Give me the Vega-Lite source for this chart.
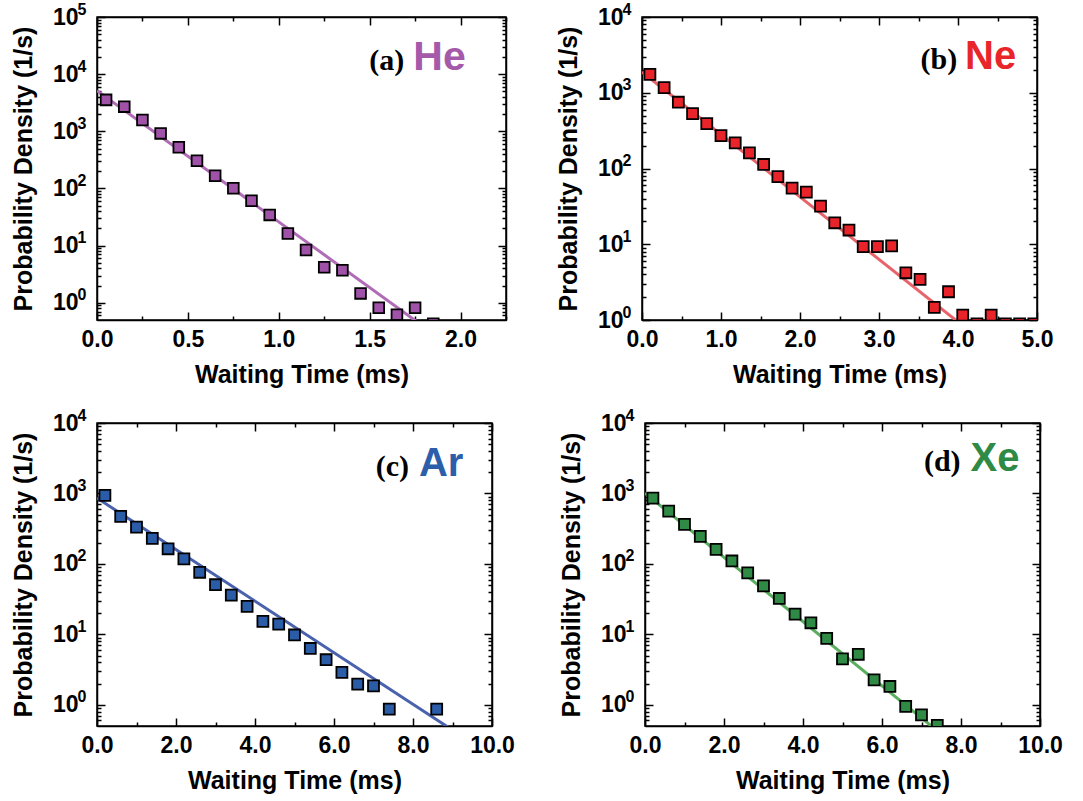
{
  "$schema": "https://vega.github.io/schema/vega-lite/v6.json",
  "background": "white",
  "padding": {"left": 10, "top": 0, "right": 5, "bottom": 5},
  "config": {
    "view": {"stroke": "black", "strokeWidth": 1.5},
    "axis": {"grid": false, "domainColor": "black", "domainWidth": 1.5, "tickColor": "black", "tickWidth": 1.5, "labelFont": "Liberation Sans", "labelFontWeight": "bold", "labelFontSize": 23, "labelColor": "black", "titleFont": "Liberation Sans", "titleFontWeight": "bold", "titleFontSize": 25, "titleColor": "black", "labelFlush": false, "labelOverlap": false, "labelBound": false}
  },
  "datasets": {
    "points": [
      {"panel": "a", "t": 0.05, "p": 3550}, {"panel": "a", "t": 0.15, "p": 2700}, {"panel": "a", "t": 0.25, "p": 1580}, {"panel": "a", "t": 0.35, "p": 920}, {"panel": "a", "t": 0.45, "p": 525}, {"panel": "a", "t": 0.55, "p": 306}, {"panel": "a", "t": 0.65, "p": 167}, {"panel": "a", "t": 0.75, "p": 101}, {"panel": "a", "t": 0.85, "p": 61}, {"panel": "a", "t": 0.95, "p": 34.5}, {"panel": "a", "t": 1.05, "p": 16.3}, {"panel": "a", "t": 1.15, "p": 8.4}, {"panel": "a", "t": 1.25, "p": 4.2}, {"panel": "a", "t": 1.35, "p": 3.7}, {"panel": "a", "t": 1.45, "p": 1.46}, {"panel": "a", "t": 1.55, "p": 0.82}, {"panel": "a", "t": 1.65, "p": 0.62}, {"panel": "a", "t": 1.75, "p": 0.82}, {"panel": "a", "t": 1.85, "p": 0.43},
      {"panel": "b", "t": 0.10, "p": 1750}, {"panel": "b", "t": 0.28, "p": 1170}, {"panel": "b", "t": 0.46, "p": 750}, {"panel": "b", "t": 0.64, "p": 531}, {"panel": "b", "t": 0.82, "p": 392}, {"panel": "b", "t": 1.00, "p": 272}, {"panel": "b", "t": 1.18, "p": 218}, {"panel": "b", "t": 1.36, "p": 161}, {"panel": "b", "t": 1.54, "p": 113}, {"panel": "b", "t": 1.72, "p": 78}, {"panel": "b", "t": 1.90, "p": 55}, {"panel": "b", "t": 2.08, "p": 48.7}, {"panel": "b", "t": 2.26, "p": 31.9}, {"panel": "b", "t": 2.44, "p": 19.2}, {"panel": "b", "t": 2.62, "p": 15.4}, {"panel": "b", "t": 2.80, "p": 9.3}, {"panel": "b", "t": 2.98, "p": 9.3}, {"panel": "b", "t": 3.16, "p": 9.5}, {"panel": "b", "t": 3.34, "p": 4.2}, {"panel": "b", "t": 3.52, "p": 3.44}, {"panel": "b", "t": 3.70, "p": 1.47}, {"panel": "b", "t": 3.88, "p": 2.36}, {"panel": "b", "t": 4.06, "p": 1.16}, {"panel": "b", "t": 4.24, "p": 0.89}, {"panel": "b", "t": 4.42, "p": 1.16}, {"panel": "b", "t": 4.60, "p": 0.89}, {"panel": "b", "t": 4.78, "p": 0.89}, {"panel": "b", "t": 4.96, "p": 0.89},
      {"panel": "c", "t": 0.2, "p": 940}, {"panel": "c", "t": 0.6, "p": 473}, {"panel": "c", "t": 1.0, "p": 333}, {"panel": "c", "t": 1.4, "p": 230}, {"panel": "c", "t": 1.8, "p": 164}, {"panel": "c", "t": 2.2, "p": 118}, {"panel": "c", "t": 2.6, "p": 76}, {"panel": "c", "t": 3.0, "p": 50.6}, {"panel": "c", "t": 3.4, "p": 36}, {"panel": "c", "t": 3.8, "p": 24.9}, {"panel": "c", "t": 4.2, "p": 15.3}, {"panel": "c", "t": 4.6, "p": 14}, {"panel": "c", "t": 5.0, "p": 9.8}, {"panel": "c", "t": 5.4, "p": 6.3}, {"panel": "c", "t": 5.8, "p": 4.36}, {"panel": "c", "t": 6.2, "p": 2.88}, {"panel": "c", "t": 6.6, "p": 1.97}, {"panel": "c", "t": 7.0, "p": 1.86}, {"panel": "c", "t": 7.4, "p": 0.87}, {"panel": "c", "t": 8.6, "p": 0.87},
      {"panel": "d", "t": 0.2, "p": 859}, {"panel": "d", "t": 0.6, "p": 562}, {"panel": "d", "t": 1.0, "p": 364}, {"panel": "d", "t": 1.4, "p": 246}, {"panel": "d", "t": 1.8, "p": 161}, {"panel": "d", "t": 2.2, "p": 110}, {"panel": "d", "t": 2.6, "p": 74.6}, {"panel": "d", "t": 3.0, "p": 48.8}, {"panel": "d", "t": 3.4, "p": 32.3}, {"panel": "d", "t": 3.8, "p": 19.4}, {"panel": "d", "t": 4.2, "p": 14.6}, {"panel": "d", "t": 4.6, "p": 8.78}, {"panel": "d", "t": 5.0, "p": 4.48}, {"panel": "d", "t": 5.4, "p": 5.21}, {"panel": "d", "t": 5.8, "p": 2.26}, {"panel": "d", "t": 6.2, "p": 1.82}, {"panel": "d", "t": 6.6, "p": 0.95}, {"panel": "d", "t": 7.0, "p": 0.72}, {"panel": "d", "t": 7.4, "p": 0.51}
    ],
    "fits": [
      {"panel": "a", "t": 0, "p": 5150}, {"panel": "a", "t": 1.8, "p": 0.378},
      {"panel": "b", "t": 0, "p": 1880}, {"panel": "b", "t": 4.2, "p": 0.646},
      {"panel": "c", "t": 0, "p": 861}, {"panel": "c", "t": 9.0, "p": 0.438},
      {"panel": "d", "t": 0, "p": 1010}, {"panel": "d", "t": 7.5, "p": 0.385}
    ],
    "labels": [
      {"panel": "a", "tag": "(a)", "gas": "He"},
      {"panel": "b", "tag": "(b)", "gas": "Ne"},
      {"panel": "c", "tag": "(c)", "gas": "Ar"},
      {"panel": "d", "tag": "(d)", "gas": "Xe"}
    ]
  },
  "spacing": 18,
  "vconcat": [
    {
      "bounds": "flush",
      "spacing": 136,
      "hconcat": [
        {
          "width": 409, "height": 303,
          "layer": [
            {
              "data": {"name": "fits"}, "transform": [{"filter": "datum.panel == 'a'"}],
              "mark": {"type": "line", "color": "#B06CB6", "strokeWidth": 3, "clip": true},
              "encoding": {
                "x": {"field": "t", "type": "quantitative", "scale": {"domain": [0, 2.25], "nice": false, "zero": false},
                  "axis": {"orient": "bottom", "title": "Waiting Time (ms)", "values": [0, 0.25, 0.5, 0.75, 1, 1.25, 1.5, 1.75, 2, 2.25], "labelExpr": "abs(datum.value/0.5 - round(datum.value/0.5)) < 0.001 ? format(datum.value, '.1f') : ''", "tickSize": {"condition": {"test": "abs(datum.value/0.5 - round(datum.value/0.5)) < 0.001", "value": -8}, "value": -4}, "labelPadding": 16, "titlePadding": 7}},
                "y": {"field": "p", "type": "quantitative", "scale": {"type": "log", "domain": [0.5, 100000], "nice": false},
                  "axis": {"orient": "left", "title": "Probability Density (1/s)", "values": [0.6,0.7,0.8,0.9,1,2,3,4,5,6,7,8,9,10,20,30,40,50,60,70,80,90,100,200,300,400,500,600,700,800,900,1000,2000,3000,4000,5000,6000,7000,8000,9000,10000,20000,30000,40000,50000,60000,70000,80000,90000,100000], "labelExpr": "abs(log(datum.value)/LN10 - round(log(datum.value)/LN10)) < 0.001 ? '10' : ''", "tickSize": {"condition": {"test": "abs(log(datum.value)/LN10 - round(log(datum.value)/LN10)) < 0.001", "value": -8}, "value": -4}, "labelPadding": 27, "titlePadding": 16}}
              }
            },
            {
              "data": {"name": "points"}, "transform": [{"filter": "datum.panel == 'a'"}],
              "mark": {"type": "point", "shape": "square", "filled": true, "fill": "#A052A8", "stroke": "black", "strokeWidth": 1.8, "size": 115, "opacity": 1, "clip": true},
              "encoding": {
                "x": {"field": "t", "type": "quantitative", "scale": {"domain": [0, 2.25], "nice": false, "zero": false},
                  "axis": {"orient": "top", "title": null, "labels": false, "values": [0, 0.25, 0.5, 0.75, 1, 1.25, 1.5, 1.75, 2, 2.25], "tickSize": {"condition": {"test": "abs(datum.value/0.5 - round(datum.value/0.5)) < 0.001", "value": -8}, "value": -4}}},
                "y": {"field": "p", "type": "quantitative", "scale": {"type": "log", "domain": [0.5, 100000], "nice": false},
                  "axis": {"orient": "right", "title": null, "labels": false, "values": [0.6,0.7,0.8,0.9,1,2,3,4,5,6,7,8,9,10,20,30,40,50,60,70,80,90,100,200,300,400,500,600,700,800,900,1000,2000,3000,4000,5000,6000,7000,8000,9000,10000,20000,30000,40000,50000,60000,70000,80000,90000,100000], "tickSize": {"condition": {"test": "abs(log(datum.value)/LN10 - round(log(datum.value)/LN10)) < 0.001", "value": -8}, "value": -4}}}
              }
            },
            {
              "data": {"name": "labels"}, "transform": [{"filter": "datum.panel == 'a'"}],
              "mark": {"type": "text", "font": "Liberation Serif", "fontWeight": "bold", "fontSize": 30, "color": "black", "align": "right", "baseline": "alphabetic"},
              "encoding": {"x": {"datum": 1.69, "type": "quantitative", "axis": null},
                "y": {"datum": 11700, "type": "quantitative", "axis": {"orient": "left", "title": null, "values": [1, 10, 100, 1000, 10000, 100000], "labelExpr": "'' + round(log(datum.value)/LN10)", "ticks": false, "tickSize": 0, "domain": false, "labelFontSize": 16, "labelPadding": 11, "labelOffset": -8}},
                "text": {"field": "tag"}}
            },
            {
              "data": {"name": "labels"}, "transform": [{"filter": "datum.panel == 'a'"}],
              "mark": {"type": "text", "font": "Liberation Sans", "fontWeight": "bold", "fontSize": 41, "color": "#A45AA8", "align": "left", "baseline": "alphabetic"},
              "encoding": {"x": {"datum": 1.74, "type": "quantitative", "axis": null}, "y": {"datum": 11700, "type": "quantitative", "axis": null}, "text": {"field": "gas"}}
            }
          ],
          "resolve": {"axis": {"x": "independent", "y": "independent"}}
        },
        {
          "width": 395, "height": 303,
          "layer": [
            {
              "data": {"name": "fits"}, "transform": [{"filter": "datum.panel == 'b'"}],
              "mark": {"type": "line", "color": "#E8646A", "strokeWidth": 3, "clip": true},
              "encoding": {
                "x": {"field": "t", "type": "quantitative", "scale": {"domain": [0, 5], "nice": false, "zero": false},
                  "axis": {"orient": "bottom", "title": "Waiting Time (ms)", "values": [0, 0.5, 1, 1.5, 2, 2.5, 3, 3.5, 4, 4.5, 5], "labelExpr": "abs(datum.value - round(datum.value)) < 0.001 ? format(datum.value, '.1f') : ''", "tickSize": {"condition": {"test": "abs(datum.value - round(datum.value)) < 0.001", "value": -8}, "value": -4}, "labelPadding": 16, "titlePadding": 7}},
                "y": {"field": "p", "type": "quantitative", "scale": {"type": "log", "domain": [1, 10000], "nice": false},
                  "axis": {"orient": "left", "title": "Probability Density (1/s)", "values": [1,2,3,4,5,6,7,8,9,10,20,30,40,50,60,70,80,90,100,200,300,400,500,600,700,800,900,1000,2000,3000,4000,5000,6000,7000,8000,9000,10000], "labelExpr": "abs(log(datum.value)/LN10 - round(log(datum.value)/LN10)) < 0.001 ? '10' : ''", "tickSize": {"condition": {"test": "abs(log(datum.value)/LN10 - round(log(datum.value)/LN10)) < 0.001", "value": -8}, "value": -4}, "labelPadding": 27, "titlePadding": 16}}
              }
            },
            {
              "data": {"name": "points"}, "transform": [{"filter": "datum.panel == 'b'"}],
              "mark": {"type": "point", "shape": "square", "filled": true, "fill": "#E8232A", "stroke": "black", "strokeWidth": 1.8, "size": 120, "opacity": 1, "clip": true},
              "encoding": {
                "x": {"field": "t", "type": "quantitative", "scale": {"domain": [0, 5], "nice": false, "zero": false},
                  "axis": {"orient": "top", "title": null, "labels": false, "values": [0, 0.5, 1, 1.5, 2, 2.5, 3, 3.5, 4, 4.5, 5], "tickSize": {"condition": {"test": "abs(datum.value - round(datum.value)) < 0.001", "value": -8}, "value": -4}}},
                "y": {"field": "p", "type": "quantitative", "scale": {"type": "log", "domain": [1, 10000], "nice": false},
                  "axis": {"orient": "right", "title": null, "labels": false, "values": [1,2,3,4,5,6,7,8,9,10,20,30,40,50,60,70,80,90,100,200,300,400,500,600,700,800,900,1000,2000,3000,4000,5000,6000,7000,8000,9000,10000], "tickSize": {"condition": {"test": "abs(log(datum.value)/LN10 - round(log(datum.value)/LN10)) < 0.001", "value": -8}, "value": -4}}}
              }
            },
            {
              "data": {"name": "labels"}, "transform": [{"filter": "datum.panel == 'b'"}],
              "mark": {"type": "text", "font": "Liberation Serif", "fontWeight": "bold", "fontSize": 30, "color": "black", "align": "right", "baseline": "alphabetic"},
              "encoding": {"x": {"datum": 3.99, "type": "quantitative", "axis": null},
                "y": {"datum": 2050, "type": "quantitative", "axis": {"orient": "left", "title": null, "values": [1, 10, 100, 1000, 10000], "labelExpr": "'' + round(log(datum.value)/LN10)", "ticks": false, "tickSize": 0, "domain": false, "labelFontSize": 16, "labelPadding": 11, "labelOffset": -8}},
                "text": {"field": "tag"}}
            },
            {
              "data": {"name": "labels"}, "transform": [{"filter": "datum.panel == 'b'"}],
              "mark": {"type": "text", "font": "Liberation Sans", "fontWeight": "bold", "fontSize": 40, "color": "#E8262A", "align": "left", "baseline": "alphabetic"},
              "encoding": {"x": {"datum": 4.09, "type": "quantitative", "axis": null}, "y": {"datum": 2050, "type": "quantitative", "axis": null}, "text": {"field": "gas"}}
            }
          ],
          "resolve": {"axis": {"x": "independent", "y": "independent"}}
        }
      ]
    },
    {
      "bounds": "flush",
      "spacing": 153,
      "hconcat": [
        {
          "width": 395, "height": 303,
          "layer": [
            {
              "data": {"name": "fits"}, "transform": [{"filter": "datum.panel == 'c'"}],
              "mark": {"type": "line", "color": "#4A62AE", "strokeWidth": 3, "clip": true},
              "encoding": {
                "x": {"field": "t", "type": "quantitative", "scale": {"domain": [0, 10], "nice": false, "zero": false},
                  "axis": {"orient": "bottom", "title": "Waiting Time (ms)", "values": [0, 1, 2, 3, 4, 5, 6, 7, 8, 9, 10], "labelExpr": "abs(datum.value/2 - round(datum.value/2)) < 0.001 ? format(datum.value, '.1f') : ''", "tickSize": {"condition": {"test": "abs(datum.value/2 - round(datum.value/2)) < 0.001", "value": -8}, "value": -4}, "labelPadding": 16, "titlePadding": 7}},
                "y": {"field": "p", "type": "quantitative", "scale": {"type": "log", "domain": [0.5, 10000], "nice": false},
                  "axis": {"orient": "left", "title": "Probability Density (1/s)", "values": [0.6,0.7,0.8,0.9,1,2,3,4,5,6,7,8,9,10,20,30,40,50,60,70,80,90,100,200,300,400,500,600,700,800,900,1000,2000,3000,4000,5000,6000,7000,8000,9000,10000], "labelExpr": "abs(log(datum.value)/LN10 - round(log(datum.value)/LN10)) < 0.001 ? '10' : ''", "tickSize": {"condition": {"test": "abs(log(datum.value)/LN10 - round(log(datum.value)/LN10)) < 0.001", "value": -8}, "value": -4}, "labelPadding": 27, "titlePadding": 16}}
              }
            },
            {
              "data": {"name": "points"}, "transform": [{"filter": "datum.panel == 'c'"}],
              "mark": {"type": "point", "shape": "square", "filled": true, "fill": "#2A5CA8", "stroke": "black", "strokeWidth": 1.8, "size": 120, "opacity": 1, "clip": true},
              "encoding": {
                "x": {"field": "t", "type": "quantitative", "scale": {"domain": [0, 10], "nice": false, "zero": false},
                  "axis": {"orient": "top", "title": null, "labels": false, "values": [0, 1, 2, 3, 4, 5, 6, 7, 8, 9, 10], "tickSize": {"condition": {"test": "abs(datum.value/2 - round(datum.value/2)) < 0.001", "value": -8}, "value": -4}}},
                "y": {"field": "p", "type": "quantitative", "scale": {"type": "log", "domain": [0.5, 10000], "nice": false},
                  "axis": {"orient": "right", "title": null, "labels": false, "values": [0.6,0.7,0.8,0.9,1,2,3,4,5,6,7,8,9,10,20,30,40,50,60,70,80,90,100,200,300,400,500,600,700,800,900,1000,2000,3000,4000,5000,6000,7000,8000,9000,10000], "tickSize": {"condition": {"test": "abs(log(datum.value)/LN10 - round(log(datum.value)/LN10)) < 0.001", "value": -8}, "value": -4}}}
              }
            },
            {
              "data": {"name": "labels"}, "transform": [{"filter": "datum.panel == 'c'"}],
              "mark": {"type": "text", "font": "Liberation Serif", "fontWeight": "bold", "fontSize": 30, "color": "black", "align": "right", "baseline": "alphabetic"},
              "encoding": {"x": {"datum": 7.9, "type": "quantitative", "axis": null},
                "y": {"datum": 1780, "type": "quantitative", "axis": {"orient": "left", "title": null, "values": [1, 10, 100, 1000, 10000], "labelExpr": "'' + round(log(datum.value)/LN10)", "ticks": false, "tickSize": 0, "domain": false, "labelFontSize": 16, "labelPadding": 11, "labelOffset": -8}},
                "text": {"field": "tag"}}
            },
            {
              "data": {"name": "labels"}, "transform": [{"filter": "datum.panel == 'c'"}],
              "mark": {"type": "text", "font": "Liberation Sans", "fontWeight": "bold", "fontSize": 40, "color": "#2C5EAA", "align": "left", "baseline": "alphabetic"},
              "encoding": {"x": {"datum": 8.15, "type": "quantitative", "axis": null}, "y": {"datum": 1780, "type": "quantitative", "axis": null}, "text": {"field": "gas"}}
            }
          ],
          "resolve": {"axis": {"x": "independent", "y": "independent"}}
        },
        {
          "width": 395, "height": 303,
          "layer": [
            {
              "data": {"name": "fits"}, "transform": [{"filter": "datum.panel == 'd'"}],
              "mark": {"type": "line", "color": "#5AAE5E", "strokeWidth": 3, "clip": true},
              "encoding": {
                "x": {"field": "t", "type": "quantitative", "scale": {"domain": [0, 10], "nice": false, "zero": false},
                  "axis": {"orient": "bottom", "title": "Waiting Time (ms)", "values": [0, 1, 2, 3, 4, 5, 6, 7, 8, 9, 10], "labelExpr": "abs(datum.value/2 - round(datum.value/2)) < 0.001 ? format(datum.value, '.1f') : ''", "tickSize": {"condition": {"test": "abs(datum.value/2 - round(datum.value/2)) < 0.001", "value": -8}, "value": -4}, "labelPadding": 16, "titlePadding": 7}},
                "y": {"field": "p", "type": "quantitative", "scale": {"type": "log", "domain": [0.5, 10000], "nice": false},
                  "axis": {"orient": "left", "title": "Probability Density (1/s)", "values": [0.6,0.7,0.8,0.9,1,2,3,4,5,6,7,8,9,10,20,30,40,50,60,70,80,90,100,200,300,400,500,600,700,800,900,1000,2000,3000,4000,5000,6000,7000,8000,9000,10000], "labelExpr": "abs(log(datum.value)/LN10 - round(log(datum.value)/LN10)) < 0.001 ? '10' : ''", "tickSize": {"condition": {"test": "abs(log(datum.value)/LN10 - round(log(datum.value)/LN10)) < 0.001", "value": -8}, "value": -4}, "labelPadding": 27, "titlePadding": 16}}
              }
            },
            {
              "data": {"name": "points"}, "transform": [{"filter": "datum.panel == 'd'"}],
              "mark": {"type": "point", "shape": "square", "filled": true, "fill": "#2F8A45", "stroke": "black", "strokeWidth": 1.8, "size": 120, "opacity": 1, "clip": true},
              "encoding": {
                "x": {"field": "t", "type": "quantitative", "scale": {"domain": [0, 10], "nice": false, "zero": false},
                  "axis": {"orient": "top", "title": null, "labels": false, "values": [0, 1, 2, 3, 4, 5, 6, 7, 8, 9, 10], "tickSize": {"condition": {"test": "abs(datum.value/2 - round(datum.value/2)) < 0.001", "value": -8}, "value": -4}}},
                "y": {"field": "p", "type": "quantitative", "scale": {"type": "log", "domain": [0.5, 10000], "nice": false},
                  "axis": {"orient": "right", "title": null, "labels": false, "values": [0.6,0.7,0.8,0.9,1,2,3,4,5,6,7,8,9,10,20,30,40,50,60,70,80,90,100,200,300,400,500,600,700,800,900,1000,2000,3000,4000,5000,6000,7000,8000,9000,10000], "tickSize": {"condition": {"test": "abs(log(datum.value)/LN10 - round(log(datum.value)/LN10)) < 0.001", "value": -8}, "value": -4}}}
              }
            },
            {
              "data": {"name": "labels"}, "transform": [{"filter": "datum.panel == 'd'"}],
              "mark": {"type": "text", "font": "Liberation Serif", "fontWeight": "bold", "fontSize": 30, "color": "black", "align": "right", "baseline": "alphabetic"},
              "encoding": {"x": {"datum": 7.99, "type": "quantitative", "axis": null},
                "y": {"datum": 2090, "type": "quantitative", "axis": {"orient": "left", "title": null, "values": [1, 10, 100, 1000, 10000], "labelExpr": "'' + round(log(datum.value)/LN10)", "ticks": false, "tickSize": 0, "domain": false, "labelFontSize": 16, "labelPadding": 11, "labelOffset": -8}},
                "text": {"field": "tag"}}
            },
            {
              "data": {"name": "labels"}, "transform": [{"filter": "datum.panel == 'd'"}],
              "mark": {"type": "text", "font": "Liberation Sans", "fontWeight": "bold", "fontSize": 40, "color": "#2F8A45", "align": "left", "baseline": "alphabetic"},
              "encoding": {"x": {"datum": 8.24, "type": "quantitative", "axis": null}, "y": {"datum": 2090, "type": "quantitative", "axis": null}, "text": {"field": "gas"}}
            }
          ],
          "resolve": {"axis": {"x": "independent", "y": "independent"}}
        }
      ]
    }
  ]
}
